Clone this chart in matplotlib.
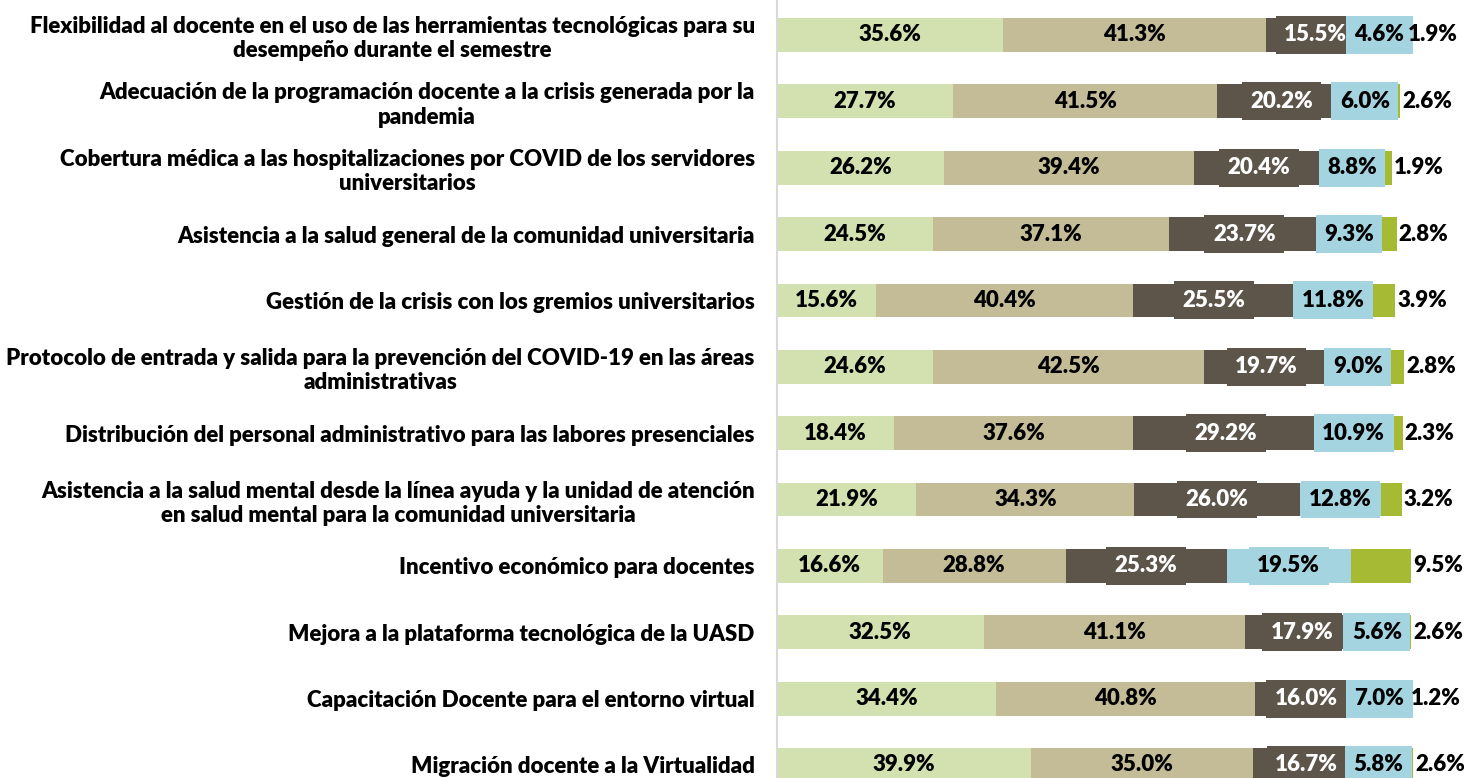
import numpy as np
import matplotlib
matplotlib.use("Agg")
import matplotlib.pyplot as plt

plt.rcParams["font.family"] = ["Lato", "DejaVu Sans"]
plt.rcParams["font.weight"] = "heavy"

categories = [
    "Flexibilidad al docente en el uso de las herramientas tecnológicas para su\ndesempeño durante el semestre",
    "Adecuación de la programación docente a la crisis generada por la\npandemia",
    "Cobertura médica a las hospitalizaciones por COVID de los servidores\nuniversitarios",
    "Asistencia a la salud general de la comunidad universitaria",
    "Gestión de la crisis con los gremios universitarios",
    "Protocolo de entrada y salida para la prevención del COVID-19 en las áreas\nadministrativas",
    "Distribución del personal administrativo para las labores presenciales",
    "Asistencia a la salud mental desde la línea ayuda y la unidad de atención\nen salud mental para la comunidad universitaria",
    "Incentivo económico para docentes",
    "Mejora a la plataforma tecnológica de la UASD",
    "Capacitación Docente para el entorno virtual",
    "Migración docente a la Virtualidad",
]

s1 = [35.6, 27.7, 26.2, 24.5, 15.6, 24.6, 18.4, 21.9, 16.6, 32.5, 34.4, 39.9]
s2 = [41.3, 41.5, 39.4, 37.1, 40.4, 42.5, 37.6, 34.3, 28.8, 41.1, 40.8, 35.0]
s3 = [15.5, 20.2, 20.4, 23.7, 25.5, 19.7, 29.2, 26.0, 25.3, 17.9, 16.0, 16.7]
s4 = [4.6, 6.0, 8.8, 9.3, 11.8, 9.0, 10.9, 12.8, 19.5, 5.6, 7.0, 5.8]
s5 = [1.9, 2.6, 1.9, 2.8, 3.9, 2.8, 2.3, 3.2, 9.5, 2.6, 1.2, 2.6]

series = [s1, s2, s3, s4, s5]
colors = ["#D3E1B1", "#C4BC97", "#5E554A", "#A5D4E1", "#A6BB33"]
text_colors = ["black", "black", "white", "black", "black"]

fig = plt.figure(figsize=(14.64, 7.78), dpi=100)
ax = fig.add_axes([0.5307, 0, 0.4693, 1])

y = np.arange(len(categories))
left = np.zeros(len(categories))
for k, (vals, col) in enumerate(zip(series, colors)):
    vals = np.array(vals)
    ax.barh(y, vals, left=left, height=0.51, color=col, zorder=2)
    for i, v in enumerate(vals):
        if k == 4:
            ax.text(left[i] + v + 0.3, y[i], f"{v:.1f}%", ha="left", va="center",
                    fontsize=16, color="black", zorder=4)
        elif k in (2, 3):
            ax.text(left[i] + v / 2, y[i], f"{v:.1f}%", ha="center", va="center",
                    fontsize=16, color=text_colors[k], zorder=4,
                    bbox=dict(boxstyle="square,pad=0.38", fc=col, ec="none"))
        else:
            ax.text(left[i] + v / 2, y[i], f"{v:.1f}%", ha="center", va="center",
                    fontsize=16, color=text_colors[k], zorder=4)
    left += vals

ax.set_xlim(0, 108)
ax.set_ylim(11.196, -0.527)
ax.set_yticks(y)
ax.set_yticklabels(categories, fontsize=16)
for lbl in ax.get_yticklabels():
    lbl.set_multialignment("center")
ax.tick_params(axis="y", length=0, pad=16)
ax.set_xticks([])
for side in ["top", "right", "bottom"]:
    ax.spines[side].set_visible(False)
ax.spines["left"].set_color("#D9D9D9")
ax.spines["left"].set_linewidth(1.5)

fig.savefig("out.png", dpi=100)
